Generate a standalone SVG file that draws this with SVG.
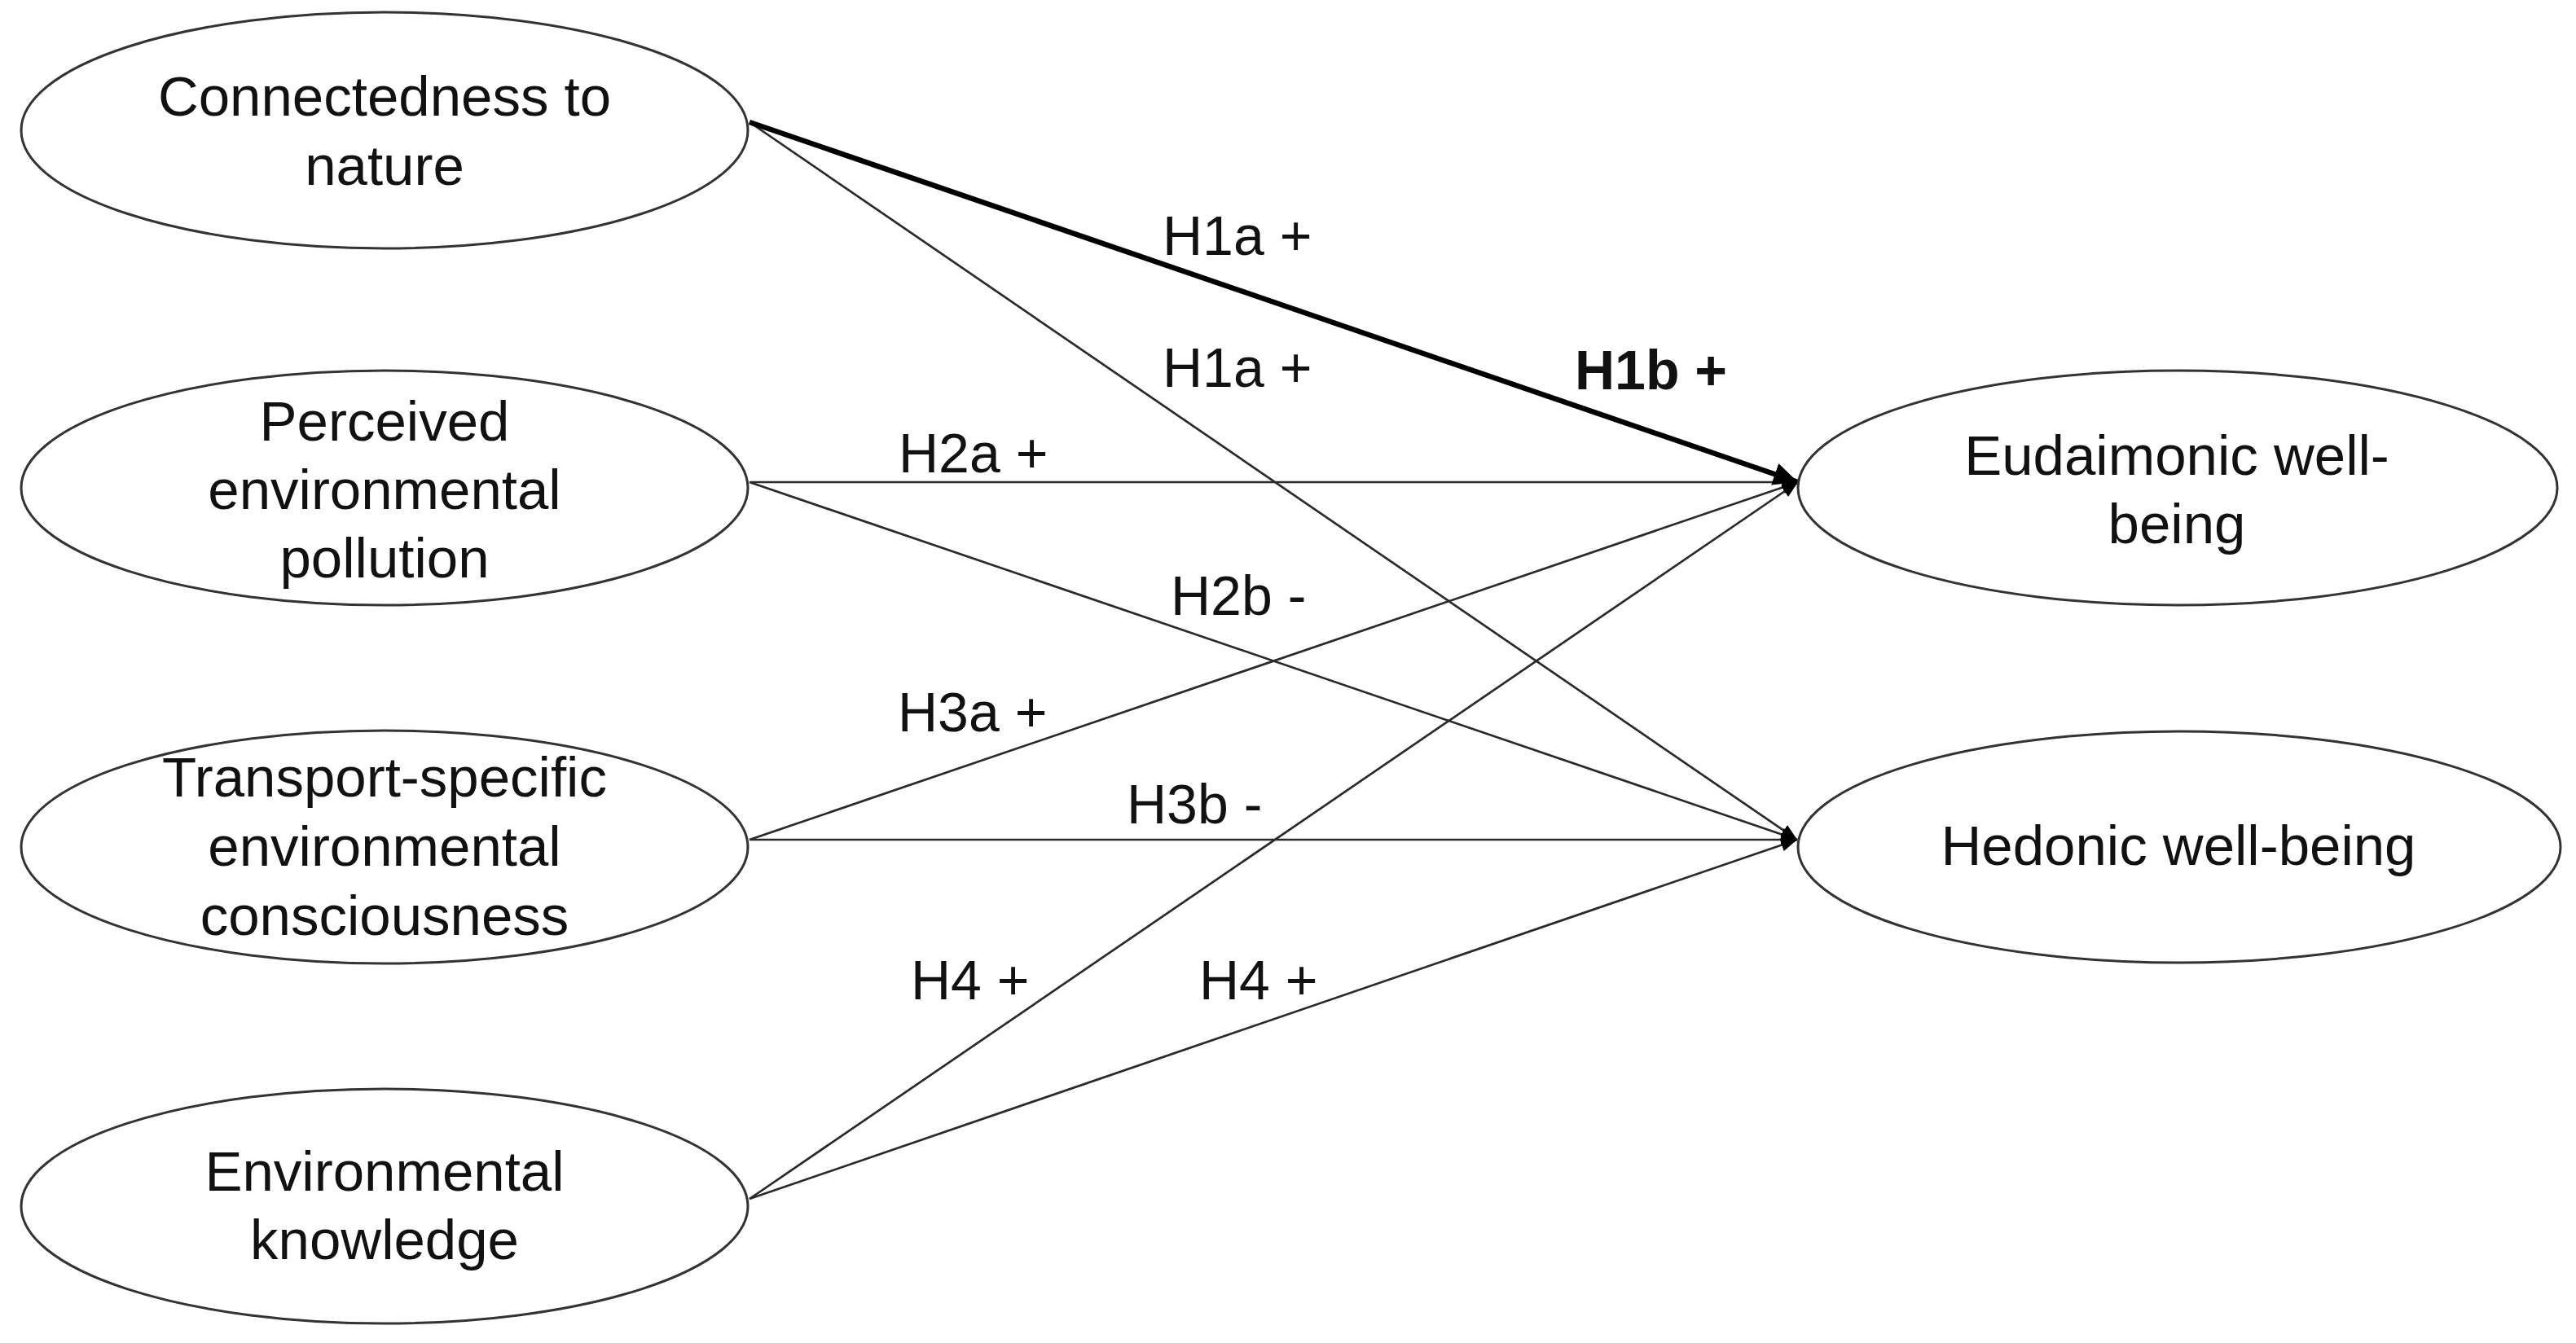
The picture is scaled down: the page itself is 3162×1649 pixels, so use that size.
<svg xmlns="http://www.w3.org/2000/svg" width="3162" height="1649" viewBox="0 0 3162 1649">
<style>
.node ellipse{fill:#fff;stroke:#333;stroke-width:3}
.nt{font-family:"Liberation Sans",Arial,sans-serif;font-size:69px;fill:#111;text-anchor:middle}
.lb{font-family:"Liberation Sans",Arial,sans-serif;font-size:68px;fill:#111}
.thin{stroke:#2a2a2a;stroke-width:2.7;fill:none;marker-end:url(#arr)}
.thick{stroke:#000;stroke-width:6.5;fill:none;marker-end:url(#arrB)}
</style>
<defs>
<marker id="arr" markerUnits="userSpaceOnUse" markerWidth="22" markerHeight="18" refX="20" refY="9" orient="auto">
<path d="M0,1 L20,9 L0,17 z" fill="#000"/>
</marker>
<marker id="arrB" markerUnits="userSpaceOnUse" markerWidth="32" markerHeight="32" refX="30" refY="16" orient="auto">
<path d="M0,2 L30,16 L0,30 z" fill="#000"/>
</marker>
</defs>
<rect width="3162" height="1649" fill="#fff"/>
<g id="connectors">
<line class="thin" x1="920" y1="150" x2="2206" y2="1031"/>
<line class="thin" x1="920" y1="592" x2="2207" y2="592"/>
<line class="thin" x1="920" y1="592" x2="2206" y2="1031"/>
<line class="thin" x1="920" y1="1031" x2="2207" y2="592"/>
<line class="thin" x1="920" y1="1031" x2="2206" y2="1031"/>
<line class="thin" x1="920" y1="1472" x2="2207" y2="592"/>
<line class="thin" x1="920" y1="1472" x2="2206" y2="1031"/>
<line class="thick" x1="920" y1="150" x2="2207" y2="592"/>
<g id="labels">
<text class="lb" x="1427" y="313">H1a +</text>
<text class="lb" x="1427" y="475">H1a +</text>
<text class="lb" x="1933" y="478" font-weight="bold">H1b +</text>
<text class="lb" x="1103" y="580">H2a +</text>
<text class="lb" x="1437" y="755">H2b -</text>
<text class="lb" x="1102" y="898">H3a +</text>
<text class="lb" x="1383" y="1011">H3b -</text>
<text class="lb" x="1118" y="1227">H4 +</text>
<text class="lb" x="1472" y="1227">H4 +</text>
</g>
</g>
<g id="n-connectedness" class="node">
<ellipse cx="472" cy="160" rx="446" ry="145"/>
<text class="nt" x="472" y="142">Connectedness to</text>
<text class="nt" x="472" y="227">nature</text>
</g>
<g id="n-pollution" class="node">
<ellipse cx="472" cy="599" rx="446" ry="144"/>
<text class="nt" x="472" y="541">Perceived</text>
<text class="nt" x="472" y="625">environmental</text>
<text class="nt" x="472" y="709">pollution</text>
</g>
<g id="n-consciousness" class="node">
<ellipse cx="472" cy="1040" rx="446" ry="143"/>
<text class="nt" x="472" y="978">Transport-specific</text>
<text class="nt" x="472" y="1063">environmental</text>
<text class="nt" x="472" y="1148">consciousness</text>
</g>
<g id="n-knowledge" class="node">
<ellipse cx="472" cy="1481" rx="446" ry="144"/>
<text class="nt" x="472" y="1462">Environmental</text>
<text class="nt" x="472" y="1546">knowledge</text>
</g>
<g id="n-eudaimonic" class="node">
<ellipse cx="2673" cy="599" rx="466" ry="144"/>
<text class="nt" x="2672" y="583">Eudaimonic well-</text>
<text class="nt" x="2672" y="667">being</text>
</g>
<g id="n-hedonic" class="node">
<ellipse cx="2675" cy="1040" rx="468" ry="142"/>
<text class="nt" x="2674" y="1062">Hedonic well-being</text>
</g>
</svg>
